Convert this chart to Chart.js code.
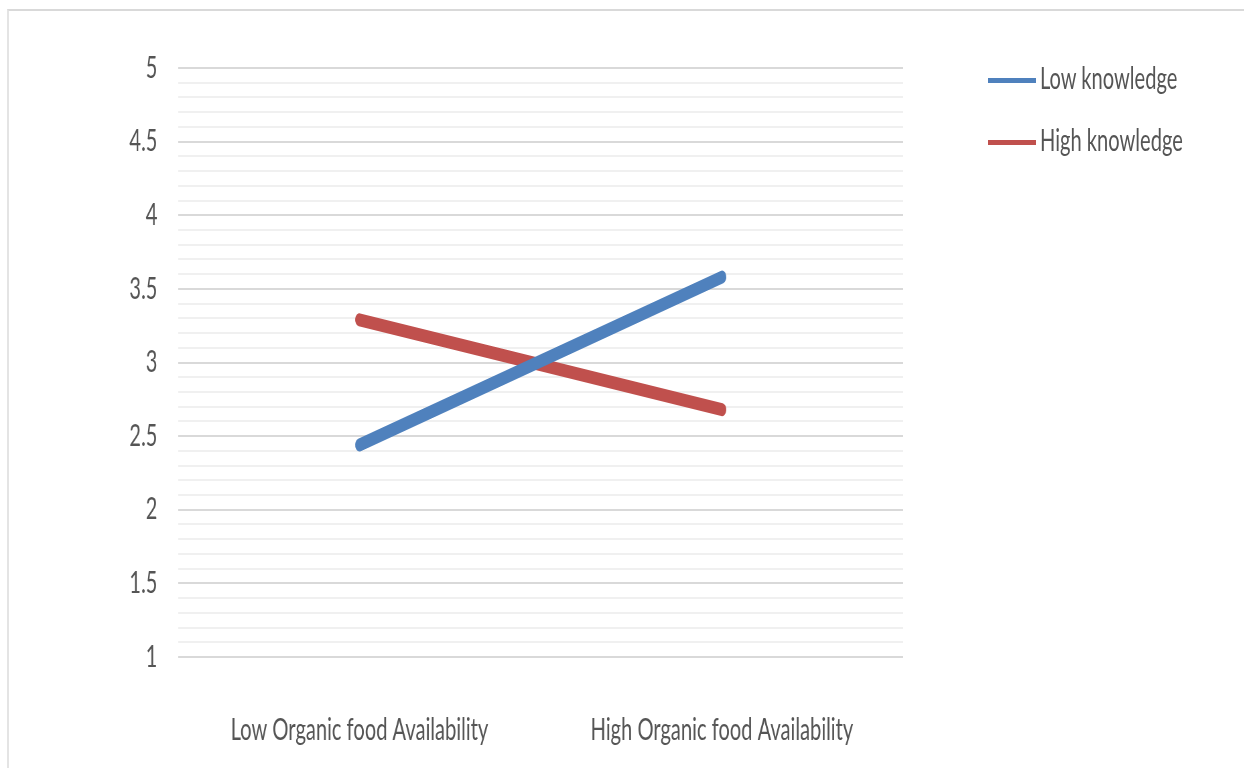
<!DOCTYPE html>
<html>
<head>
<meta charset="utf-8">
<script src="https://cdn.jsdelivr.net/npm/chart.js@4.4.1/dist/chart.umd.min.js"></script>
<style>
  html, body { margin: 0; padding: 0; background: #fff; overflow: hidden; }
  #frame { position: absolute; left: 7px; top: 9px; width: 1300px; height: 800px;
           border-top: 2px solid #d9d9d9; border-left: 2px solid #e4e4e4; }
  /* the reference is squeezed sideways, so draw wide and compress */
  #wrap { position: absolute; left: 0; top: 0; width: 1857px; height: 768px;
          transform: scaleX(0.67); transform-origin: 0 0; }
  .leg { position: absolute; left: 988px; height: 5px; width: 48px; }
  .leg .tx { position: absolute; left: 52px; top: -19px; font-family: Lato, sans-serif; font-size: 30px;
             color: #555; white-space: nowrap; transform: scaleX(0.67); transform-origin: 0 0; }
</style>
</head>
<body>
<div id="frame"></div>
<div id="wrap"><canvas id="chart" width="1857" height="768" style="width:1857px;height:768px"></canvas></div>
<div class="leg" style="top:78px;background:#4f81bd"><span class="tx">Low knowledge</span></div>
<div class="leg" style="top:140px;background:#c0504d"><span class="tx">High knowledge</span></div>
<script>
// values
var categories = ['Low Organic food Availability', 'High Organic food Availability'];
var lowKnowledge = [2.44, 3.58];
var highKnowledge = [3.29, 2.68];
var yMin = 1, yMax = 5;

var sx = 0.67; // horizontal squeeze
var fontFam = 'Lato, sans-serif';

const isMajor = function (v) {
    return Math.abs(v * 2 - Math.round(v * 2)) < 1e-6;
}

const ctx = document.getElementById('chart').getContext('2d');
new Chart(ctx, {
    type: 'line',
    data: {
        labels: categories,
        datasets: [
            {
                label: 'Low knowledge',
                data: lowKnowledge,
                borderColor: '#4f81bd',
                borderWidth: 13,
                borderCapStyle: 'round',
                pointRadius: 0,
                tension: 0
            },
            {
                label: 'High knowledge',
                data: highKnowledge,
                borderColor: '#c0504d',
                borderWidth: 13,
                borderCapStyle: 'round',
                pointRadius: 0,
                tension: 0
            }
        ]
    },
    options: {
        responsive: false,
        animation: false,
        devicePixelRatio: 1,
        layout: { padding: { left: 0, right: Math.round(341 / sx), top: 68, bottom: 0 } },
        plugins: {
            legend: { display: false },
            tooltip: { enabled: false }
        },
        scales: {
            x: {
                offset: true,
                grid: { display: false, drawTicks: false },
                border: { display: false },
                ticks: {
                    color: '#555',
                    font: { family: fontFam, size: 30 },
                    padding: 55,
                    maxRotation: 0
                },
                afterFit: function (scale) { scale.height = 111; }
            },
            y: {
                min: yMin,
                max: yMax,
                border: { display: false },
                grid: {
                    drawTicks: false,
                    lineWidth: 2,
                    color: function (c) { return isMajor(c.tick.value) ? '#d9d9d9' : '#f0f0f0'; }
                },
                ticks: {
                    stepSize: 0.1,
                    autoSkip: false,
                    color: '#555',
                    padding: Math.round(21 / sx),
                    font: { family: fontFam, size: 30 },
                    callback: function (v) { return isMajor(v) ? String(Math.round(v * 2) / 2) : ''; }
                },
                afterFit: function (scale) { scale.width = Math.round(178 / sx); }
            }
        }
    }
});
</script>
</body>
</html>
